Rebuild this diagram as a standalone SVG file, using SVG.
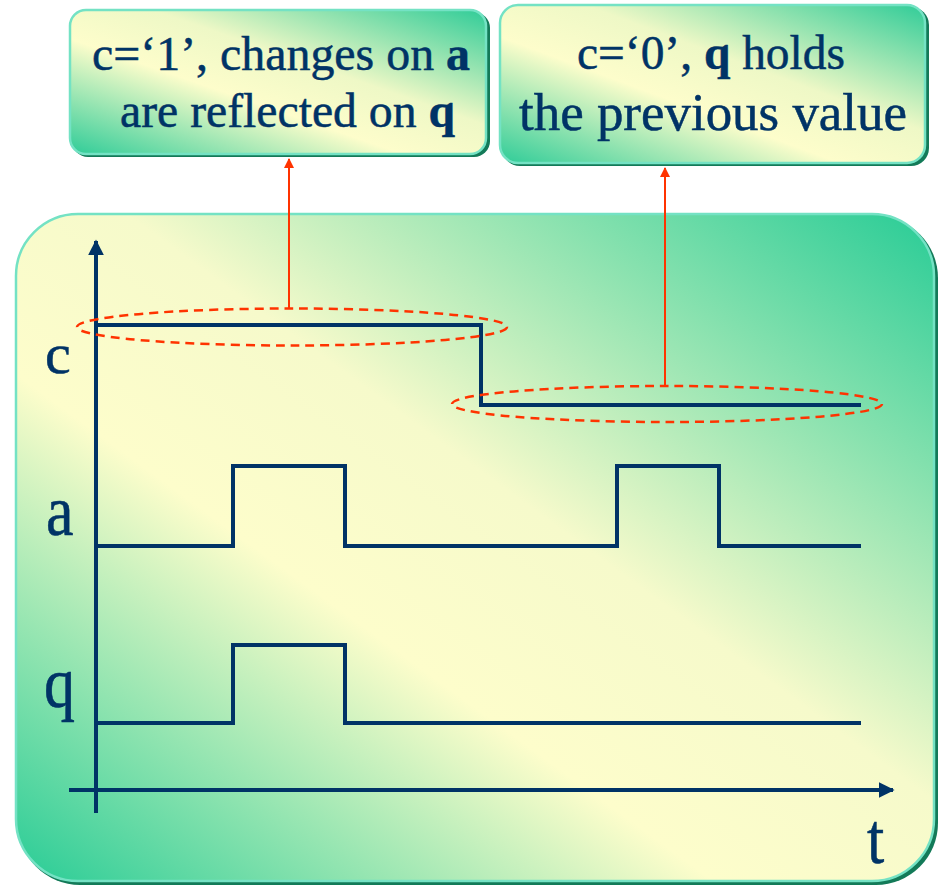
<svg xmlns="http://www.w3.org/2000/svg" width="938" height="885" viewBox="0 0 938 885">
<defs>
<linearGradient id="g" x1="0" y1="1" x2="1" y2="0">
<stop offset="0" stop-color="#28cc96"/>
<stop offset="0.38" stop-color="#fdfdcb"/>
<stop offset="0.56" stop-color="#f6facb"/>
<stop offset="1" stop-color="#28cc96"/>
</linearGradient>
<linearGradient id="gb" x1="0" y1="1" x2="1" y2="0">
<stop offset="0" stop-color="#2fcc98"/>
<stop offset="0.4" stop-color="#fdfdcb"/>
<stop offset="0.6" stop-color="#eef8c6"/>
<stop offset="1" stop-color="#30cc98"/>
</linearGradient>
<marker id="ar" viewBox="0 0 10 10" refX="9" refY="5" markerWidth="10" markerHeight="12" markerUnits="userSpaceOnUse" orient="auto">
<path d="M0,0 L10,5 L0,10 z" fill="#ff3300"/>
</marker>
<marker id="ax" viewBox="0 0 10 10" refX="9" refY="5" markerWidth="16" markerHeight="16" markerUnits="userSpaceOnUse" orient="auto">
<path d="M0,0 L10,5 L0,10 z" fill="#003366"/>
</marker>
</defs>
<style>
.sh{fill:#137a58}
.panel{stroke:#74e2c4;stroke-width:2.5}
.txt{font-family:"Liberation Serif","Times New Roman",serif;fill:#003366;stroke:#003366;stroke-width:0.5}
.b{font-weight:bold}
.sig{fill:none;stroke:#003366;stroke-width:4;stroke-linejoin:miter}
.axis{fill:none;stroke:#003366;stroke-width:4}
.ell{fill:none;stroke:#ff3300;stroke-width:2.5;stroke-dasharray:9 6}
.red{fill:none;stroke:#ff3300;stroke-width:2}
</style>

<g id="panel">
<rect class="sh" x="18" y="216" width="920" height="669" rx="62"/>
<rect class="panel" x="16" y="214" width="918" height="667" rx="62" fill="url(#g)"/>
</g>

<g id="box1">
<rect class="sh" x="72" y="12" width="418" height="145" rx="16"/>
<rect class="panel" x="70" y="10" width="416" height="144" rx="16" fill="url(#gb)"/>
<text class="txt" x="92" y="70" font-size="48" textLength="378" lengthAdjust="spacingAndGlyphs">c=‘1’, changes on <tspan class="b">a</tspan></text>
<text class="txt" x="120" y="127" font-size="48" textLength="335" lengthAdjust="spacingAndGlyphs">are reflected on <tspan class="b">q</tspan></text>
</g>

<g id="box2">
<rect class="sh" x="502" y="7" width="427" height="159" rx="18"/>
<rect class="panel" x="500" y="5" width="425" height="158" rx="18" fill="url(#gb)"/>
<text class="txt" x="577" y="69" font-size="48" textLength="268" lengthAdjust="spacingAndGlyphs">c=‘0’, <tspan class="b">q</tspan> holds</text>
<text class="txt" x="519" y="130" font-size="53" textLength="388" lengthAdjust="spacingAndGlyphs">the previous value</text>
</g>

<g id="labels">
<text class="txt" x="45" y="373" font-size="58">c</text>
<text class="txt" font-size="62" transform="translate(46,535) scale(1,1.15)">a</text>
<text class="txt" font-size="62" transform="translate(44,707) scale(1,1.15)">q</text>
<text class="txt" font-size="62" transform="translate(867,863) scale(1,1.15)">t</text>
</g>

<g id="axes">
<line class="axis" x1="96" y1="813" x2="96" y2="241" marker-end="url(#ax)"/>
<line class="axis" x1="69" y1="790" x2="893" y2="790" marker-end="url(#ax)"/>
</g>

<g id="signals">
<polyline id="sig-c" class="sig" points="98,325 481,325 481,405 861,405"/>
<polyline id="sig-a" class="sig" points="96,546 233,546 233,466 345,466 345,546 617,546 617,466 719,466 719,546 861,546"/>
<polyline id="sig-q" class="sig" points="96,723 233,723 233,645 345,645 345,723 861,723"/>
</g>

<g id="connectors">
<ellipse class="ell" cx="292" cy="327" rx="215" ry="18.5"/>
<ellipse class="ell" cx="667" cy="404" rx="215" ry="18"/>
<line class="red" x1="289" y1="308" x2="289" y2="159" marker-end="url(#ar)"/>
<line class="red" x1="665" y1="386" x2="665" y2="168" marker-end="url(#ar)"/>
</g>
</svg>
